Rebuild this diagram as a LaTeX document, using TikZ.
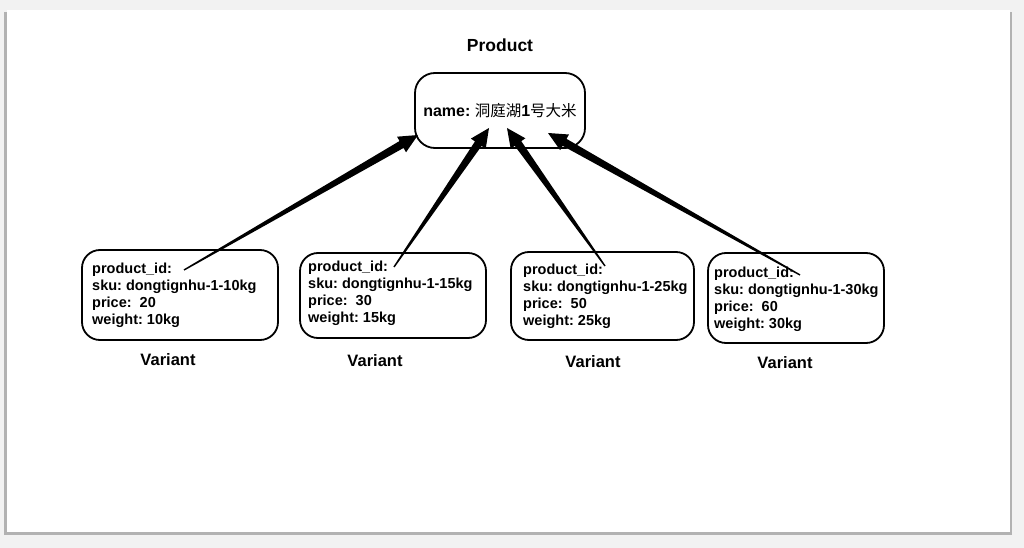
\documentclass[tikz,border=0pt]{standalone}
\usepackage{fontspec}
\setmainfont{Liberation Sans}
\newfontfamily\cjk{Noto Sans CJK SC}
\usetikzlibrary{calc}
\frenchspacing
\newcommand\taperarrow[2]{%
  \path ($(#2)!19pt!(#1)$) coordinate (tbase);
  \fill[black] ($(#1)!0.7pt!90:(#2)$) -- ($(tbase)!4pt!-90:(#1)$) -- ($(tbase)!9pt!-90:(#1)$) -- (#2)
     -- ($(tbase)!9pt!90:(#1)$) -- ($(tbase)!4pt!90:(#1)$) -- ($(#1)!0.7pt!-90:(#2)$) -- cycle;}
\begin{document}
\begin{tikzpicture}[x=1pt,y=-1pt,
  lbl/.style={font=\bfseries\fontsize{16.5}{19}\selectfont},
  vbox/.style={draw, line width=1.8pt, rounded corners=18pt},
  vtxt/.style={anchor=west, inner sep=0pt, align=left, font=\bfseries\fontsize{14.5}{17}\selectfont},
  pbox/.style={draw, line width=1.8pt, rounded corners=20pt, minimum width=170pt, minimum height=75pt,
     font=\bfseries\fontsize{16}{19}\selectfont}]
\useasboundingbox (0,0) rectangle (1024,548);
\fill[black!5] (0,0) rectangle (1024,548);
\fill[black!30] (4,12) rectangle (1012,535);
\fill[white] (7,10) rectangle (1010,532);

\node[lbl, font=\bfseries\fontsize{17.5}{20}\selectfont] (ptitle) at (500,45) {Product};
\node[pbox] (prod) at (500,110.5) {\raisebox{-1.5pt}{name: {\cjk\mdseries\fontsize{15.5}{20}\selectfont 洞庭湖}1{\cjk\mdseries\fontsize{15.5}{20}\selectfont 号大米}}};

\node[vbox, minimum width=196pt, minimum height=90pt] (v1) at (180,295) {};
\node[vtxt] (v1t) at (92,295.5) {product\_id:\\sku: dongtignhu-1-10kg\\price:~~20\\weight: 10kg};
\node[vbox, minimum width=186pt, minimum height=85pt] (v2) at (393,295.5) {};
\node[vtxt] (v2t) at (308,293) {product\_id:\\sku: dongtignhu-1-15kg\\price:~~30\\weight: 15kg};
\node[vbox, minimum width=183pt, minimum height=88pt] (v3) at (602.5,296) {};
\node[vtxt] (v3t) at (523,296) {product\_id:\\sku: dongtignhu-1-25kg\\price:~~50\\weight: 25kg};
\node[vbox, minimum width=176pt, minimum height=90pt] (v4) at (796,298) {};
\node[vtxt] (v4t) at (714,299) {product\_id:\\sku: dongtignhu-1-30kg\\price:~~60\\weight: 30kg};

\node[lbl] (l1) at (168,360) {Variant};
\node[lbl] (l2) at (375,361) {Variant};
\node[lbl] (l3) at (593,362) {Variant};
\node[lbl] (l4) at (785,363) {Variant};

\coordinate (s1) at (184,270);
\coordinate (s2) at (394,267);
\coordinate (s3) at (605,266);
\coordinate (s4) at (800,275);
\coordinate (t1) at (418,135);
\coordinate (t2) at (489,128);
\coordinate (t3) at (507,128);
\coordinate (t4) at (548,133);

\taperarrow{s1}{t1}
\taperarrow{s2}{t2}
\taperarrow{s3}{t3}
\taperarrow{s4}{t4}
\end{tikzpicture}
\end{document}
